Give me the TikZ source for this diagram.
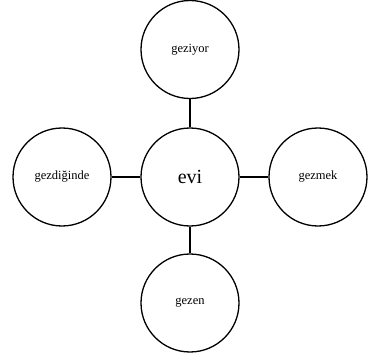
\documentclass[tikz,border=0pt]{standalone}
\usepackage{fontspec}
\setmainfont{Liberation Serif}
\usepackage{tikz}
\usetikzlibrary{positioning}
\tikzset{
  word/.style={circle, draw, line width=1.3pt, minimum size=98pt, inner sep=0pt, font=\fontsize{12.5}{13}\selectfont},
  root/.style={word, font=\fontsize{20}{24}\selectfont},
  link/.style={line width=1.3pt}
}

\begin{document}
\begin{tikzpicture}[x=1pt,y=1pt]
    \useasboundingbox (0,0) rectangle (368,360);
	  \node[root] (evi) at (190,183) {evi};
	  \node[word] (geziyor) at (190,310.5) {geziyor};
	  \node[word] (gezen) at (190,57) {gezen};
	  \node[word] (gezdiginde) at (62,183) {gezdiğinde};
	  \node[word] (gezmek) at (318,183) {gezmek};
		\draw[link] (evi) -- (geziyor);
		\draw[link] (evi) -- (gezen);
		\draw[link] (evi) -- (gezdiginde);
		\draw[link] (evi) -- (gezmek);
\end{tikzpicture}
\end{document}
